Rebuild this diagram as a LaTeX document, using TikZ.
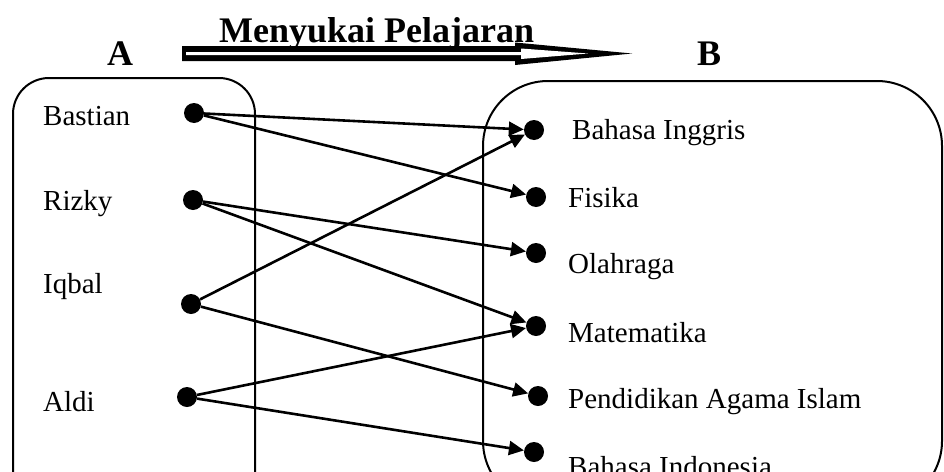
\documentclass[tikz,border=0pt]{standalone}
\usepackage{fontspec}
\setmainfont{Liberation Serif}
\usetikzlibrary{arrows.meta}
\begin{document}
\begin{tikzpicture}[x=1pt,y=-1pt,
  setbox/.style={draw=black,line width=2pt},
  dot/.style={circle,fill=black,draw=none,minimum size=20pt,inner sep=0pt},
  lbl/.style={anchor=base west,inner sep=0pt,font=\fontsize{29}{32}\selectfont},
  head/.style={anchor=base,inner sep=0pt,font=\fontsize{36}{40}\selectfont\bfseries},
  link/.style={line width=2.6pt,-{Triangle[length=15pt,width=14pt]}}]
\useasboundingbox (0,0) rectangle (944,471);
\clip (0,0) rectangle (944,471);
\fill[white] (0,0) rectangle (944,471);

% the two sets
\draw[setbox,rounded corners=36pt] (13,78) rectangle (255,620);
\draw[setbox,rounded corners=65pt] (483,81) rectangle (942,506);

% headings and the hollow relation arrow
\node[head] (hA) at (120,65) {A};
\node[head] (hB) at (709,65) {B};
\fill[black] (182,46) -- (515,46) -- (515,42.5) -- (632,53.5) -- (515,65) -- (515,61) -- (182,61) -- cycle;
\fill[white] (186,52.2) -- (521,52.2) -- (521,48.5) -- (588,53.5) -- (521,59) -- (521,55.2) -- (186,55.2) -- cycle;
\node[head,anchor=base west] (rel) at (219,42) {Menyukai Pelajaran};

% domain
\node[lbl] (tBastian) at (43,125) {Bastian};
\node[lbl] (tRizky) at (43,210) {Rizky};
\node[lbl] (tIqbal) at (43,293) {Iqbal};
\node[lbl] (tAldi) at (43,411) {Aldi};
\node[dot] (Bastian) at (194,113) {};
\node[dot] (Rizky) at (193,200) {};
\node[dot] (Iqbal) at (191,304) {};
\node[dot] (Aldi) at (187,397) {};

% codomain
\node[dot] (Ing) at (534,130) {};
\node[dot] (Fis) at (536,197) {};
\node[dot] (Ola) at (536,253) {};
\node[dot] (Mat) at (536,326) {};
\node[dot] (PAI) at (538,396) {};
\node[dot] (Ind) at (534,452) {};
\node[lbl] (tIng) at (572,139) {Bahasa Inggris};
\node[lbl] (tFis) at (568,207) {Fisika};
\node[lbl] (tOla) at (568,273) {Olahraga};
\node[lbl] (tMat) at (568,342) {Matematika};
\node[lbl] (tPAI) at (568,408) {Pendidikan Agama Islam};
\node[lbl] (tInd) at (568,476) {Bahasa Indonesia};

% relation
\draw[link] (Bastian) -- (Ing);
\draw[link] (Bastian) -- (Fis);
\draw[link] (Rizky) -- (Ola);
\draw[link] (Rizky) -- (Mat);
\draw[link] (Iqbal) -- (Ing);
\draw[link] (Iqbal) -- (PAI);
\draw[link] (Aldi) -- (Mat);
\draw[link] (Aldi) -- (Ind);
\end{tikzpicture}
\end{document}
